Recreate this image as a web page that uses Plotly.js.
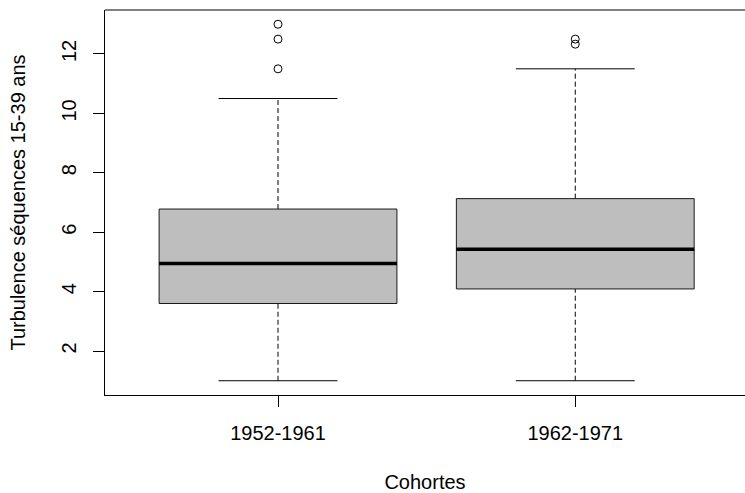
<!DOCTYPE html>
<html>
<head>
<meta charset="utf-8">
<script src="https://cdn.plot.ly/plotly-3.0.1.min.js"></script>
<style>
  html, body { margin: 0; padding: 0; background: #ffffff; }
  #chart { width: 745px; height: 493px; }
</style>
</head>
<body>
<div id="chart"></div>
<script>
// ---- Data ----
const cohortes = ['1952-1961', '1962-1971'];
const q1 = [3.6, 4.09];
const mediane = [4.95, 5.43];
const q3 = [6.78, 7.13];
const moustacheBas = [1, 1];
const moustacheHaut = [10.5, 11.5];
const atypiques1 = [11.5, 12.5, 13];
const atypiques2 = [12.33, 12.5];
const atypiques = [atypiques1, atypiques2];
const yTicks = [2, 4, 6, 8, 10, 12];

const FONT = 'Liberation Sans, Arial, sans-serif';
const demiBoite = 0.4;
const demiCap = 0.2;
const traces = [];

cohortes.forEach(function (c, i) {
  const x = i + 1;
  // dashed whiskers
  traces.push({
    type: 'scatter', mode: 'lines',
    x: [x, x], y: [q3[i], moustacheHaut[i]],
    line: { color: '#000', width: 1, dash: '5px,3px' }, hoverinfo: 'skip'
  });
  traces.push({
    type: 'scatter', mode: 'lines',
    x: [x, x], y: [moustacheBas[i], q1[i]],
    line: { color: '#000', width: 1, dash: '5px,3px' }, hoverinfo: 'skip'
  });
  // caps
  traces.push({
    type: 'scatter', mode: 'lines',
    x: [x - demiCap, x + demiCap], y: [moustacheHaut[i], moustacheHaut[i]],
    line: { color: '#000', width: 1 }, hoverinfo: 'skip'
  });
  traces.push({
    type: 'scatter', mode: 'lines',
    x: [x - demiCap, x + demiCap], y: [moustacheBas[i], moustacheBas[i]],
    line: { color: '#000', width: 1 }, hoverinfo: 'skip'
  });
  // box
  traces.push({
    type: 'scatter', mode: 'lines', fill: 'toself', fillcolor: '#bebebe',
    x: [x - demiBoite, x + demiBoite, x + demiBoite, x - demiBoite, x - demiBoite],
    y: [q1[i], q1[i], q3[i], q3[i], q1[i]],
    line: { color: '#1a1a1a', width: 1 }, hoverinfo: 'skip'
  });
  // median
  traces.push({
    type: 'scatter', mode: 'lines',
    x: [x - demiBoite, x + demiBoite], y: [mediane[i], mediane[i]],
    line: { color: '#000', width: 3.5 }, hoverinfo: 'skip'
  });
  // outliers
  traces.push({
    type: 'scatter', mode: 'markers',
    x: atypiques[i].map(function () { return x; }), y: atypiques[i],
    marker: { symbol: 'circle-open', size: 8, color: '#000', line: { color: '#000', width: 1 } },
    hoverinfo: 'skip'
  });
});

const layout = {
  width: 745, height: 493,
  margin: { l: 105, r: 0, t: 10, b: 98, pad: 0 },
  paper_bgcolor: '#ffffff', plot_bgcolor: '#ffffff',
  showlegend: false,
  font: { family: FONT, size: 20, color: '#000' },
  xaxis: {
    range: [0.418, 2.571],
    tickmode: 'array', tickvals: cohortes.map(function (c, i) { return i + 1; }), ticktext: cohortes,
    ticks: 'outside', ticklen: 11, tickwidth: 1, tickcolor: '#000',
    ticklabelstandoff: 9,
    showline: true, linecolor: '#000', linewidth: 1,
    showgrid: false, zeroline: false, automargin: false,
    tickfont: { family: FONT, size: 20, color: '#000' },
    title: { text: 'Cohortes', font: { family: FONT, size: 20, color: '#000' }, standoff: 31 }
  },
  yaxis: {
    range: [0.52, 13.48],
    tickmode: 'array', tickvals: yTicks, ticktext: yTicks.map(String),
    tickangle: -90,
    ticks: 'outside', ticklen: 11, tickwidth: 1, tickcolor: '#000',
    ticklabelstandoff: 9,
    showline: true, linecolor: '#000', linewidth: 1,
    showgrid: false, zeroline: false, automargin: false,
    tickfont: { family: FONT, size: 20, color: '#000' },
    title: { text: 'Turbulence séquences 15-39 ans', font: { family: FONT, size: 20, color: '#000' }, standoff: 27 }
  },
  shapes: [
    { type: 'line', xref: 'paper', yref: 'paper', x0: 0, x1: 1, y0: 1, y1: 1,
      line: { color: '#000', width: 1 } }
  ]
};

Plotly.newPlot('chart', traces, layout, { staticPlot: true, displayModeBar: false });
</script>
</body>
</html>
